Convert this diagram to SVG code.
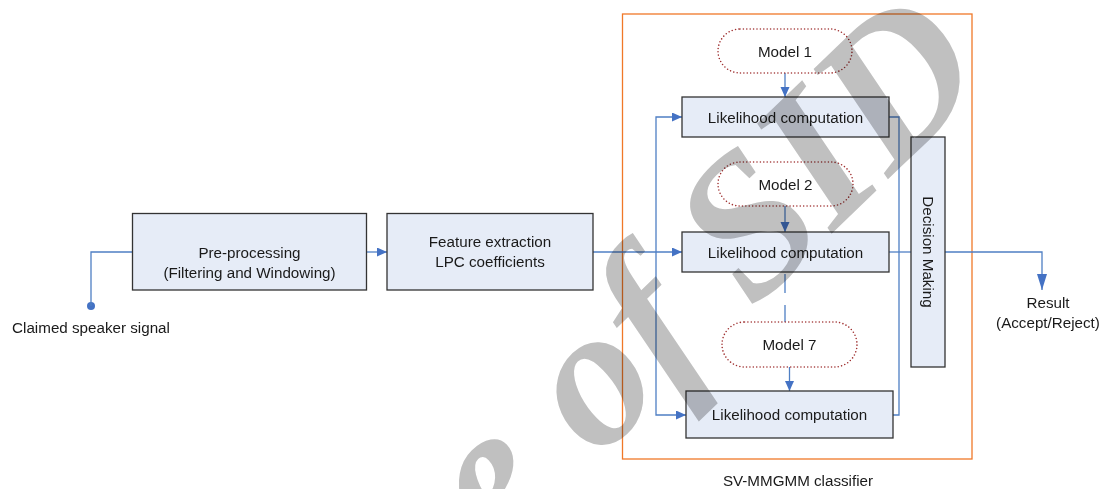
<svg xmlns="http://www.w3.org/2000/svg" width="1101" height="489" viewBox="0 0 1101 489">
<defs>
<marker id="arr" markerUnits="userSpaceOnUse" markerWidth="11" markerHeight="10" refX="10" refY="4.5" orient="auto"><path d="M0,0 L10,4.5 L0,9 z" fill="#4472C4"/></marker>
<marker id="arrL" markerUnits="userSpaceOnUse" markerWidth="17" markerHeight="11" refX="16" refY="5" orient="auto"><path d="M0,0 L16,5 L0,10 z" fill="#4472C4"/></marker>
<style>
.box{fill:#E6ECF7;stroke:#333;stroke-width:1.3}
.model{fill:#fff;stroke:#A03232;stroke-width:1.6;stroke-dasharray:0 3.4;stroke-linecap:round}
.c{fill:none;stroke:#4F7FC4;stroke-width:1.3}
.t{font-family:"Liberation Sans",Arial,sans-serif;font-size:15.2px;fill:#1a1a1a;text-anchor:middle}
.wm{font-family:"Liberation Serif","Times New Roman",serif;font-style:italic;font-weight:bold;font-size:200px;fill:#c0c0c0;mix-blend-mode:multiply}
</style>
</defs>
<rect width="1101" height="489" fill="#fff"/>
<g id="classifier">
<rect x="622.5" y="14" width="349.5" height="445" fill="none" stroke="#F07828" stroke-width="1.3"/>
<text class="t" x="798" y="486">SV-MMGMM classifier</text>
</g>
<g id="connectors">
<circle cx="91" cy="306" r="4" fill="#4472C4"/>
<path class="c" d="M91,306 V252 H132"/>
<path class="c" d="M367,252 H387" marker-end="url(#arr)"/>
<path class="c" d="M593,252 H682" marker-end="url(#arr)"/>
<path class="c" d="M656,252 V117 H682" marker-end="url(#arr)"/>
<path class="c" d="M656,252 V415 H686" marker-end="url(#arr)"/>
<path class="c" d="M785,73 V97" marker-end="url(#arr)"/>
<path class="c" d="M785,206 V232" marker-end="url(#arr)"/>
<path class="c" d="M785,274 V322" stroke-width="2" stroke-dasharray="19 12"/>
<path class="c" d="M789.5,367 V391" marker-end="url(#arr)"/>
<path class="c" d="M889,117 H899 V415 H893"/>
<path class="c" d="M889,252 H911"/>
<path class="c" d="M945,252 H1042 V290" marker-end="url(#arrL)"/>
</g>
<g id="signal"><text class="t" x="91" y="333">Claimed speaker signal</text></g>
<g id="preprocessing">
<rect class="box" x="132.5" y="213.5" width="234" height="76.5"/>
<text class="t" x="249.5" y="257.5">Pre-processing</text>
<text class="t" x="249.5" y="278">(Filtering and Windowing)</text>
</g>
<g id="feature">
<rect class="box" x="387" y="213.5" width="206" height="76.5"/>
<text class="t" x="490" y="247">Feature extraction</text>
<text class="t" x="490" y="266.5">LPC coefficients</text>
</g>
<g id="model1">
<rect class="model" x="718" y="29" width="134" height="44" rx="22"/>
<text class="t" x="785" y="56.5">Model 1</text>
</g>
<g id="lc1">
<rect class="box" x="682" y="97" width="207" height="40"/>
<text class="t" x="785.5" y="122.5">Likelihood computation</text>
</g>
<g id="model2">
<rect class="model" x="718" y="162" width="135" height="44" rx="22" stroke-width="1.2"/>
<text class="t" x="785.5" y="189.5">Model 2</text>
</g>
<g id="lc2">
<rect class="box" x="682" y="232" width="207" height="40"/>
<text class="t" x="785.5" y="257.5">Likelihood computation</text>
</g>
<g id="model7">
<rect class="model" x="722" y="322" width="135" height="45" rx="22.5" stroke="#B04444" stroke-width="1.3"/>
<text class="t" x="789.5" y="349.5">Model 7</text>
</g>
<g id="lc3">
<rect class="box" x="686" y="391" width="207" height="47"/>
<text class="t" x="789.5" y="420">Likelihood computation</text>
</g>
<g id="decision">
<rect class="box" x="911" y="137" width="34" height="230"/>
<text class="t" transform="translate(922.5,252) rotate(90)" x="0" y="0">Decision Making</text>
</g>
<g id="result">
<text class="t" x="1048" y="307.5">Result</text>
<text class="t" x="1048" y="328">(Accept/Reject)</text>
</g>
<g id="watermark">
<text class="wm" transform="translate(993,78) rotate(-44)" text-anchor="end">Archive of SID</text>
</g>
</svg>
